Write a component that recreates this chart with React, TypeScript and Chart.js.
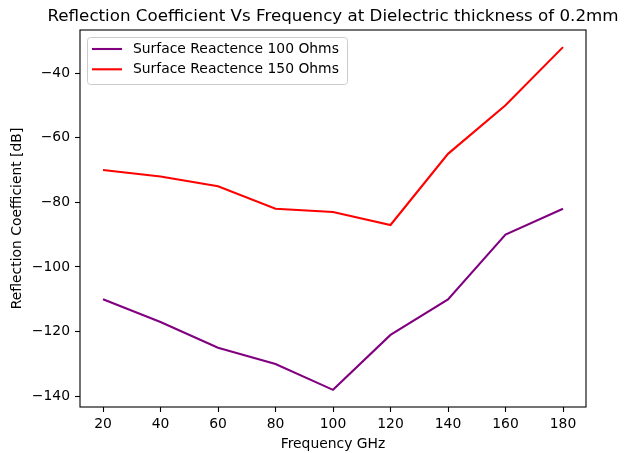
import React, { useEffect, useRef } from "react";
import { Chart, registerables } from "chart.js";

Chart.register(...registerables);

const frequencies = [20, 40, 60, 80, 100, 120, 140, 160, 180];
const reactance100 = [-110, -117, -125, -130, -138, -121, -110, -90, -82];
const reactance150 = [-70, -72, -75, -82, -83, -87, -65, -50, -32];
const seriesLabels = ["Surface Reactence 100 Ohms", "Surface Reactence 150 Ohms"];
const xTicks = [20, 40, 60, 80, 100, 120, 140, 160, 180];
const yTicks = [-140, -120, -100, -80, -60, -40];
const titleText = "Reflection Coefficient Vs Frequency at Dielectric thickness of 0.2mm";
const xLabel = "Frequency GHz";
const yLabel = "Reflection Coefficient [dB]";

const FONT = "'DejaVu Sans', sans-serif";

export default function App() {
  const ref = useRef<HTMLCanvasElement | null>(null);

  useEffect(() => {
    if (!ref.current) return;
    const colors = ["#800080", "#ff0000"];
    const series = [reactance100, reactance150];

    const decor = {
      id: "decor",
      afterDatasetsDraw(chart: any) {
        const { ctx, chartArea: a } = chart;
        ctx.save();
        // spines
        ctx.strokeStyle = "#000";
        ctx.lineWidth = 1.1;
        ctx.strokeRect(a.left, a.top, a.right - a.left, a.bottom - a.top);
        // title
        ctx.fillStyle = "#000";
        ctx.font = `16.7px ${FONT}`;
        ctx.textAlign = "center";
        ctx.textBaseline = "alphabetic";
        ctx.fillText(titleText, (a.left + a.right) / 2, 20.5);
        // x label
        ctx.font = `13.9px ${FONT}`;
        ctx.fillText(xLabel, (a.left + a.right) / 2, 448);
        // y label
        ctx.save();
        ctx.translate(17, (a.top + a.bottom) / 2);
        ctx.rotate(-Math.PI / 2);
        ctx.textBaseline = "middle";
        ctx.fillText(yLabel, 0, 0);
        ctx.restore();
        // legend
        const lx = a.left + 7.5, ly = a.top + 7.5, lw = 260, lh = 47, r = 3;
        ctx.beginPath();
        ctx.moveTo(lx + r, ly);
        ctx.lineTo(lx + lw - r, ly);
        ctx.quadraticCurveTo(lx + lw, ly, lx + lw, ly + r);
        ctx.lineTo(lx + lw, ly + lh - r);
        ctx.quadraticCurveTo(lx + lw, ly + lh, lx + lw - r, ly + lh);
        ctx.lineTo(lx + r, ly + lh);
        ctx.quadraticCurveTo(lx, ly + lh, lx, ly + lh - r);
        ctx.lineTo(lx, ly + r);
        ctx.quadraticCurveTo(lx, ly, lx + r, ly);
        ctx.closePath();
        ctx.fillStyle = "rgba(255,255,255,0.8)";
        ctx.fill();
        ctx.strokeStyle = "#cccccc";
        ctx.lineWidth = 1;
        ctx.stroke();
        chart.data.datasets.forEach((ds: any, i: number) => {
          const y = 49 + i * 20.3;
          ctx.strokeStyle = ds.borderColor;
          ctx.lineWidth = 2.1;
          ctx.beginPath();
          ctx.moveTo(92, y);
          ctx.lineTo(122, y);
          ctx.stroke();
          ctx.fillStyle = "#000";
          ctx.font = `13.9px ${FONT}`;
          ctx.textAlign = "left";
          ctx.textBaseline = "middle";
          ctx.fillText(ds.label, 133, y);
        });
        ctx.restore();
      },
    };

    const chart = new Chart(ref.current, {
      type: "line",
      data: {
        datasets: series.map((vals, i) => ({
          label: seriesLabels[i],
          data: frequencies.map((f, j) => ({ x: f, y: vals[j] })),
          borderColor: colors[i],
          backgroundColor: colors[i],
          borderWidth: 2.1,
          pointRadius: 0,
          tension: 0,
          fill: false,
        })),
      },
      options: {
        responsive: false,
        animation: false,
        devicePixelRatio: 1,
        layout: { padding: { left: 0, top: 30, right: 38, bottom: 0 } },
        plugins: { legend: { display: false }, title: { display: false }, tooltip: { enabled: false } },
        scales: {
          x: {
            type: "linear",
            min: 12,
            max: 188,
            afterFit: (s: any) => { s.height = 46; },
            afterBuildTicks: (s: any) => { s.ticks = xTicks.map((v) => ({ value: v })); },
            grid: { drawOnChartArea: false, drawTicks: true, tickLength: 5, tickColor: "#000", tickWidth: 1.1 },
            border: { display: false },
            ticks: { color: "#000", font: { family: FONT, size: 13.9 }, padding: 4, maxRotation: 0, autoSkip: false },
          },
          y: {
            type: "linear",
            min: -143.3,
            max: -26.7,
            afterFit: (s: any) => { s.width = 80; },
            afterBuildTicks: (s: any) => { s.ticks = yTicks.map((v) => ({ value: v })); },
            grid: { drawOnChartArea: false, drawTicks: true, tickLength: 5, tickColor: "#000", tickWidth: 1.1 },
            border: { display: false },
            ticks: {
              color: "#000",
              font: { family: FONT, size: 13.9 },
              padding: 5,
              autoSkip: false,
              callback: (v: any) => String(v).replace("-", "\u2212"),
            },
          },
        },
      },
      plugins: [decor],
    });
    return () => chart.destroy();
  }, []);

  return (
    <div style={{ position: "fixed", left: 0, top: 0, width: 624, height: 453, background: "#fff" }}>
      <canvas ref={ref} width={624} height={453} />
    </div>
  );
}
